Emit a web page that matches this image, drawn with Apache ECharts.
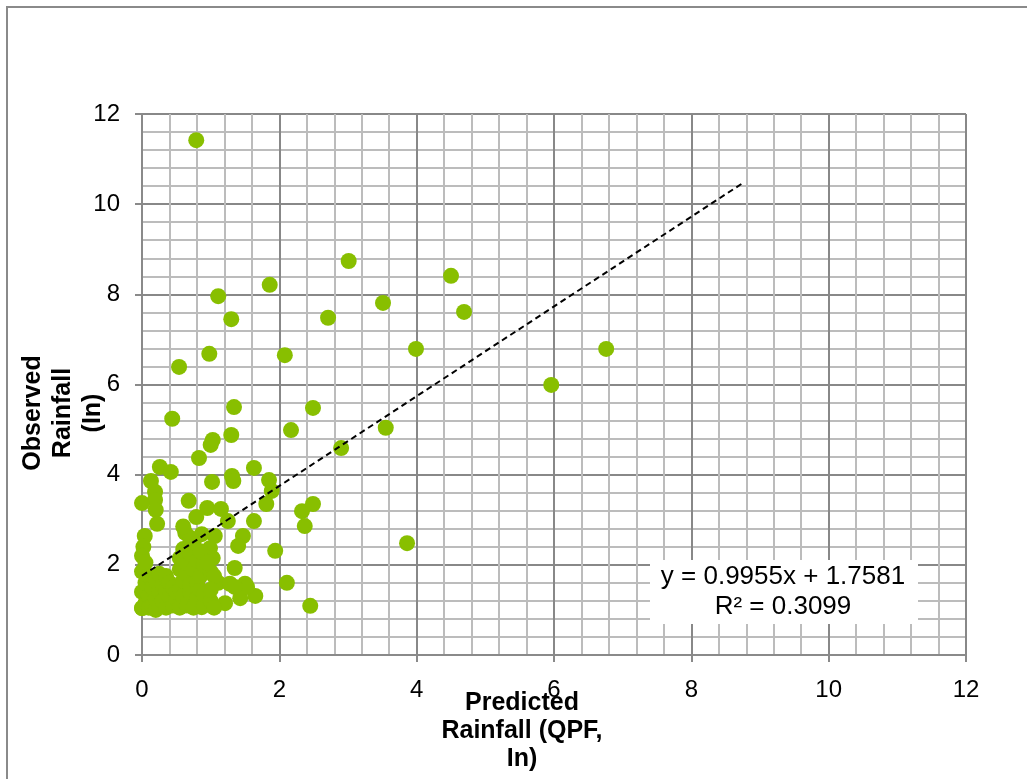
<!DOCTYPE html>
<html>
<head>
<meta charset="utf-8">
<script src="https://cdn.jsdelivr.net/npm/echarts@6/dist/echarts.min.js"></script>
<style>
  html, body { margin: 0; padding: 0; background: #fff; }
  #chart { width: 1027px; height: 779px; }
</style>
</head>
<body>
<div id="chart"></div>
<script>
// Predicted (QPF) rainfall, inches
const qpfIn = [
  0.79, 3.01, 4.50, 1.86, 1.11, 3.51, 4.69, 2.71, 1.30, 6.76, 3.99, 0.98, 2.08, 0.54, 5.96,
  1.34, 2.49, 0.44, 3.55, 2.17, 1.03, 1.00, 1.30, 2.90, 0.83, 0.26, 0.42, 1.63, 1.31, 1.33,
  1.85, 0.13, 1.02, 1.89, 1.81, 2.33, 2.49, 2.37, 1.94, 3.86, 2.11, 2.45,
  0.19, 0.19, 0.20, 0.00, 0.68, 0.95, 1.15, 0.79, 1.25, 1.63, 0.22, 0.04, 0.02, 0.63, 0.87,
  1.06, 1.47, 1.40, 0.99, 1.03, 1.11, 1.28, 1.50, 1.43, 1.65, 1.21, 0.00, 1.35, 0.92, 0.87,
  1.53, 1.35,
  0.00, 0.00, 0.00, 0.00, 0.05, 0.05, 0.05, 0.10, 0.10, 0.10, 0.15, 0.15, 0.20, 0.20, 0.20,
  0.25, 0.25, 0.25, 0.30, 0.30, 0.35, 0.35, 0.35, 0.40, 0.40, 0.45, 0.45, 0.50, 0.50,
  0.55, 0.55, 0.55, 0.55, 0.60, 0.60, 0.60, 0.65, 0.65, 0.65, 0.70, 0.70, 0.70, 0.75, 0.75,
  0.75, 0.80, 0.80, 0.80, 0.85, 0.85, 0.90, 0.90, 0.90, 1.00, 1.00, 1.05, 1.05,
  0.70, 0.85, 0.95, 0.60, 1.00
];
// Observed rainfall, inches
const observedIn = [
  11.42, 8.74, 8.41, 8.21, 7.96, 7.81, 7.61, 7.48, 7.45, 6.79, 6.79, 6.68, 6.65, 6.39, 5.99,
  5.50, 5.48, 5.24, 5.04, 4.99, 4.77, 4.66, 4.88, 4.59, 4.37, 4.17, 4.06, 4.15, 3.97, 3.86,
  3.88, 3.86, 3.84, 3.64, 3.35, 3.19, 3.35, 2.86, 2.31, 2.48, 1.60, 1.09,
  3.62, 3.44, 3.22, 3.37, 3.42, 3.26, 3.24, 3.06, 2.97, 2.97, 2.91, 2.64, 2.40, 2.71, 2.68,
  2.64, 2.64, 2.42, 2.37, 2.15, 1.60, 1.58, 1.58, 1.26, 1.31, 1.15, 1.04, 1.93, 1.22, 1.06,
  1.51, 1.51,
  1.04, 1.40, 1.85, 2.20, 1.15, 1.60, 2.05, 1.30, 1.75, 1.05, 1.10, 1.50, 1.25, 1.65, 1.00,
  1.40, 1.80, 1.10, 1.20, 1.55, 1.05, 1.45, 1.75, 1.30, 1.60, 1.10, 1.50, 1.25, 1.40,
  1.05, 1.45, 1.90, 2.15, 1.30, 1.65, 2.35, 1.10, 1.80, 2.05, 1.40, 1.55, 2.25, 1.05, 1.90,
  2.50, 1.25, 1.60, 2.10, 1.45, 1.75, 1.10, 1.35, 2.00, 1.20, 1.85, 1.05, 1.75,
  2.60, 2.30, 2.05, 2.85, 1.45
];
// Linear trend line: y = slope * x + intercept
const trendSlope = 0.9955;
const trendIntercept = 1.7581;
const trendRSquared = 0.3099;
const trendXRange = [0, 8.75];
const axisTicks = [0, 2, 4, 6, 8, 10, 12];

const points = qpfIn.map((x, i) => [x, observedIn[i]]);
const trendData = trendXRange.map(x => [x, trendSlope * x + trendIntercept]);

const FONT = '"Liberation Sans", Arial, sans-serif';
const chart = echarts.init(document.getElementById('chart'), null, { renderer: 'canvas' });

function axisCommon() {
  return {
    type: 'value',
    min: axisTicks[0],
    max: axisTicks[axisTicks.length - 1],
    interval: axisTicks[1] - axisTicks[0],
    axisLine: { show: true, lineStyle: { color: '#8a8a8a', width: 2 } },
    axisTick: { show: true, inside: false, length: 7, lineStyle: { color: '#8a8a8a', width: 2 } },
    splitLine: { show: true, lineStyle: { color: '#888888', width: 2 } },
    minorTick: { show: false, splitNumber: 5 },
    minorSplitLine: { show: true, lineStyle: { color: '#bcbcbc', width: 2 } },
    axisLabel: { color: '#000', fontFamily: FONT, fontSize: 24 }
  };
}

const xAxis = axisCommon();
xAxis.axisLabel.margin = 23;
const yAxis = axisCommon();
yAxis.axisLabel.margin = 22;

chart.setOption({
  animation: false,
  backgroundColor: '#fff',
  grid: { left: 142, top: 114, right: 61, bottom: 124, containLabel: false },
  xAxis: xAxis,
  yAxis: yAxis,
  series: [
    {
      type: 'scatter',
      data: points,
      symbol: 'circle',
      symbolSize: 16,
      itemStyle: { color: '#88bf00', opacity: 1 },
      z: 3
    },
    {
      type: 'line',
      data: trendData,
      symbol: 'none',
      lineStyle: { color: '#000', width: 2, type: [6, 4] },
      z: 4
    }
  ],
  graphic: [
    // outer chart frame
    { type: 'polyline', shape: { points: [[7, 779], [7, 7], [1027, 7]] },
      style: { stroke: '#8a8a8a', lineWidth: 2, fill: null }, silent: true },
    // trend line equation label
    { type: 'rect', shape: { x: 650, y: 560, width: 268, height: 64 },
      style: { fill: '#fff' }, z: 10 },
    { type: 'text', x: 783, y: 592, z: 11,
      style: {
        text: 'y = ' + trendSlope.toFixed(4) + 'x + ' + trendIntercept.toFixed(4) + '\nR² = ' + trendRSquared.toFixed(4),
        fontFamily: FONT, fontSize: 26, lineHeight: 30, fill: '#000',
        align: 'center', verticalAlign: 'middle'
      } },
    // y axis title
    { type: 'text', x: 63, y: 413, rotation: Math.PI / 2, z: 10,
      style: {
        text: 'Observed\nRainfall\n(In)',
        fontFamily: FONT, fontSize: 25, fontWeight: 'bold', lineHeight: 30, fill: '#000',
        align: 'center', verticalAlign: 'middle'
      } },
    // x axis title
    { type: 'text', x: 522, y: 731, z: 10,
      style: {
        text: 'Predicted\nRainfall (QPF,\nIn)',
        fontFamily: FONT, fontSize: 25, fontWeight: 'bold', lineHeight: 28, fill: '#000',
        align: 'center', verticalAlign: 'middle'
      } }
  ]
});
</script>
</body>
</html>
